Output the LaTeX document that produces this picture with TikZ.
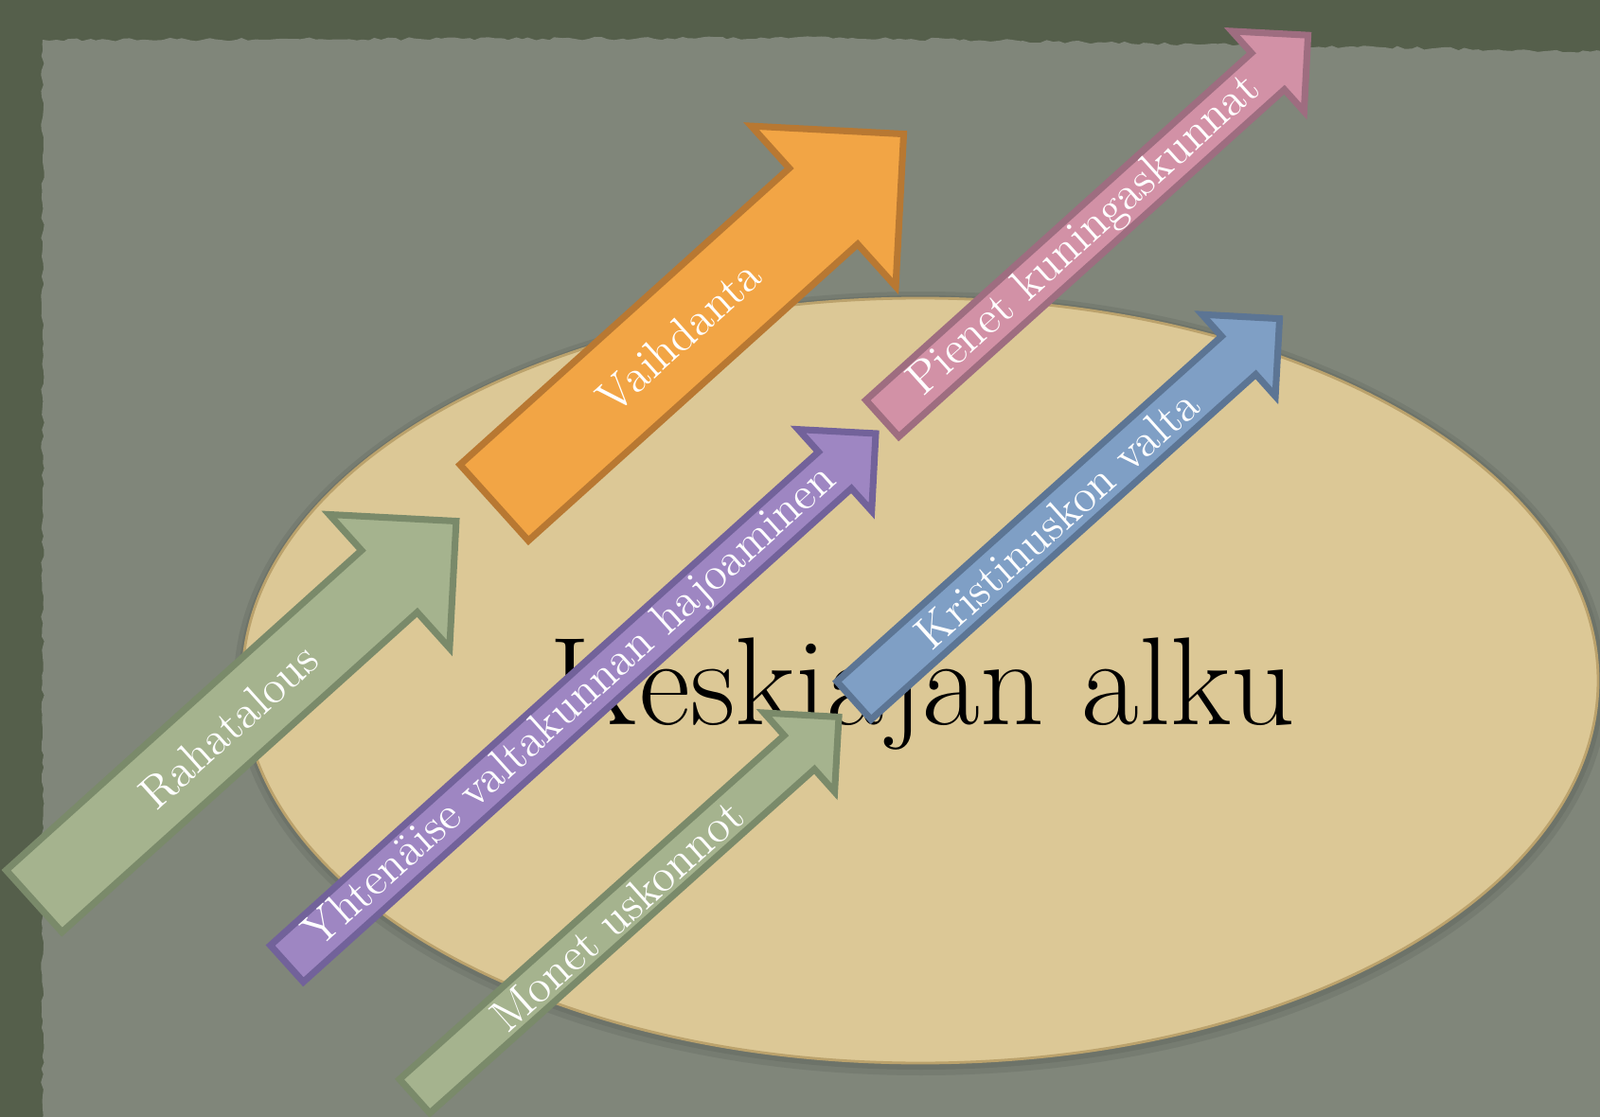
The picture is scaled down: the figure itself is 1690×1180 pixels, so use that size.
\documentclass[tikz,border=0pt]{standalone}
\usetikzlibrary{decorations.pathmorphing}
\definecolor{frameDark}{HTML}{555F4B}
\definecolor{paperGrey}{HTML}{80867A}
\definecolor{tanFill}{HTML}{DCC896}
\definecolor{tanEdge}{HTML}{BBA26C}
\definecolor{sageFill}{HTML}{A5B38E}
\definecolor{sageEdge}{HTML}{7A8A6A}
\definecolor{orangeFill}{HTML}{F2A545}
\definecolor{orangeEdge}{HTML}{B87832}
\definecolor{violetFill}{HTML}{9E86C2}
\definecolor{violetEdge}{HTML}{72629A}
\definecolor{roseFill}{HTML}{D291A6}
\definecolor{roseEdge}{HTML}{9E6D80}
\definecolor{blueFill}{HTML}{7F9FC5}
\definecolor{blueEdge}{HTML}{5C7594}
% Syntax: [draw options] (tail) (angle:length:shaft half width:head half width) {name} {label}
\def\bigarrow[#1](#2)(#3:#4:#5:#6)#7#8{%
    \begin{scope}[shift={(#2)},rotate=#3]
    \draw[fatarrow,#1] (0,-#5) -- ({#4-#6},-#5) -- ({#4-#6},-#6) -- (#4,0) -- ({#4-#6},#6) -- ({#4-#6},#5) -- (0,#5) -- cycle;
    \node[arrowlabel] (#7) at ({#4/2-#6/4},0) {#8};
    \end{scope}}

\begin{document}
\begin{tikzpicture}[x=0.1mm,y=-0.1mm,
    fatarrow/.style={line width=2pt,line join=miter},
    arrowlabel/.style={text=white,font=\fontsize{13.9}{16}\selectfont,inner sep=0pt,transform shape},
    titletext/.style={font=\fontsize{37.6}{44}\selectfont,inner sep=0pt}]

\useasboundingbox (0,0) rectangle (1690,1180);

% background: dark frame and paper
\fill[frameDark] (0,0) rectangle (1690,1180);
\fill[paperGrey,decorate,decoration={random steps,segment length=2pt,amplitude=0.5pt}]
    (45,1220) -- (45,42) -- (900,40) -- (1730,55) -- (1730,1220) -- cycle;

% tan ellipse with a soft shadow
\fill[black,opacity=0.07] (973,722) ellipse [x radius=72.6mm, y radius=41.4mm];
\fill[black,opacity=0.07] (973,721) ellipse [x radius=72.1mm, y radius=40.9mm];
\draw[tanEdge,fill=tanFill,line width=0.8pt] (972,719) ellipse [x radius=71.6mm, y radius=40.4mm];

\node[titletext,anchor=base west] (otsikko) at (580,765) {Keskiajan alku};

\bigarrow[fill=sageFill,draw=sageEdge](36,952)(42:600:44:95){raha}{Rahatalous}
\bigarrow[fill=orangeFill,draw=orangeEdge](522,531)(42:582:54:114){vaihto}{Vaihdanta}
\bigarrow[fill=violetFill,draw=violetEdge](303,1018)(42:837:26:58){hajoaminen}{Yhtenäise valtakunnan hajoaminen}
\bigarrow[fill=roseFill,draw=roseEdge](932,442)(42:605:26:57){kunnat}{Pienet kuningaskunnat}
\bigarrow[fill=blueFill,draw=blueEdge](902,740)(41.9:604:27:58){kristinusko}{Kristinuskon valta}
\bigarrow[fill=sageFill,draw=sageEdge](438,1158)(41.8:601:24:56){uskonnot}{Monet uskonnot}

\end{tikzpicture}
\end{document}
